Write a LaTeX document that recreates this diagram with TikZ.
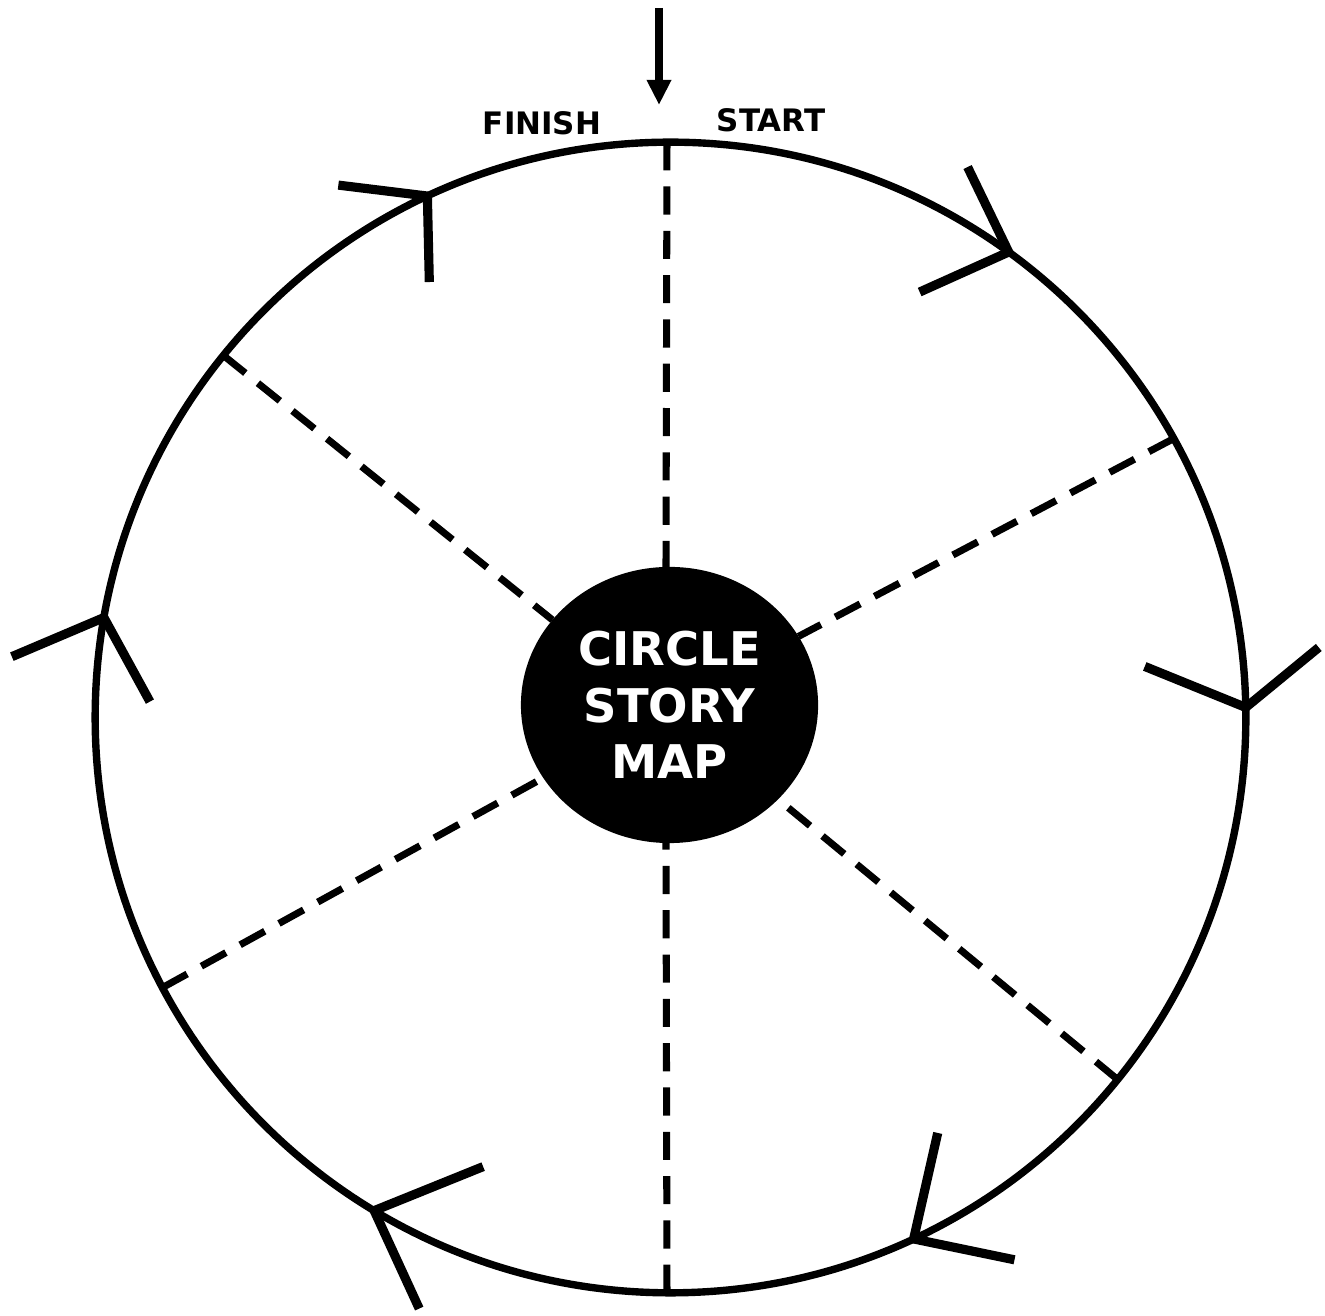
\documentclass[tikz,border=0pt]{standalone}
\usepackage{fontspec}
\setmainfont{DejaVu Sans}
\usetikzlibrary{positioning,arrows.meta,shapes.geometric,calc}
\tikzset{
  rimline/.style={circle, draw=black, line width=2.1pt, minimum size=11.5cm,
    inner sep=0pt, outer sep=0pt},
  hubnode/.style={ellipse, fill=black, minimum width=2.97cm, minimum height=2.76cm,
    inner sep=0pt, outer sep=0pt, text=white, align=center,
    font=\fontsize{13.2}{16}\selectfont\bfseries},
  lbl/.style={font=\fontsize{8.8}{10}\selectfont\bfseries, inner sep=0pt},
  spoke/.style={line width=2pt, dash pattern=on 8pt off 4.6pt},
  barb/.style={line width=2.6pt, line join=miter},
  entryarr/.style={-{Triangle[width=0.23cm,length=0.25cm]}, line width=2.3pt},
}

\begin{document}
\begin{tikzpicture}[x=0.01cm, y=0.01cm]
  \useasboundingbox (0,0) rectangle (1325,1316);

  % ring
  \node[rimline] (rim) at (670.5,598.5) {};

  % centre
  \node[hubnode] (hub) at (669.5,611) {CIRCLE\\STORY\\MAP};

  % labels
  \node[lbl] (finish) at ([shift={(-128.5,18.5)}]rim.north) {FINISH};
  \node[lbl] (start) at ([shift={(100.5,21.5)}]rim.north) {START};

  % entry arrow
  \coordinate (entry) at (659,1308);
  \coordinate (entrytip) at (659,1211);
  \draw[entryarr] (entry) -- (entrytip);

  % spokes
  \draw[spoke] ([xshift=-1pt]rim.north) -- ([xshift=-1pt]hub.north);
  \draw[spoke] ([xshift=-1pt]rim.south) -- ([xshift=-1pt]hub.south);
  \draw[spoke] (rim.141.3) -- (hub.144);
  \draw[spoke] (rim.29.8) -- (hub.28.5);
  \draw[spoke] (rim.208.2) -- (hub.210.4);
  \draw[spoke] (rim.321.4) -- (hub.319);

  % arrowheads on the ring
  \foreach \t/\a/\la/\b/\lb in {115.9/173/89.7/271.3/86, 54.7/115.8/94.4/204.2/97.6,
      1.9/157.9/109/39.4/94.5, 295.3/77.2/108.7/-11.7/103,
      239.1/22/117.5/-65.3/107.8, 170.7/203/100/298.7/95.8}
    \draw[barb] ($(rim.\t)+(\a:\la)$) -- (rim.\t) -- +(\b:\lb);
\end{tikzpicture}
\end{document}
